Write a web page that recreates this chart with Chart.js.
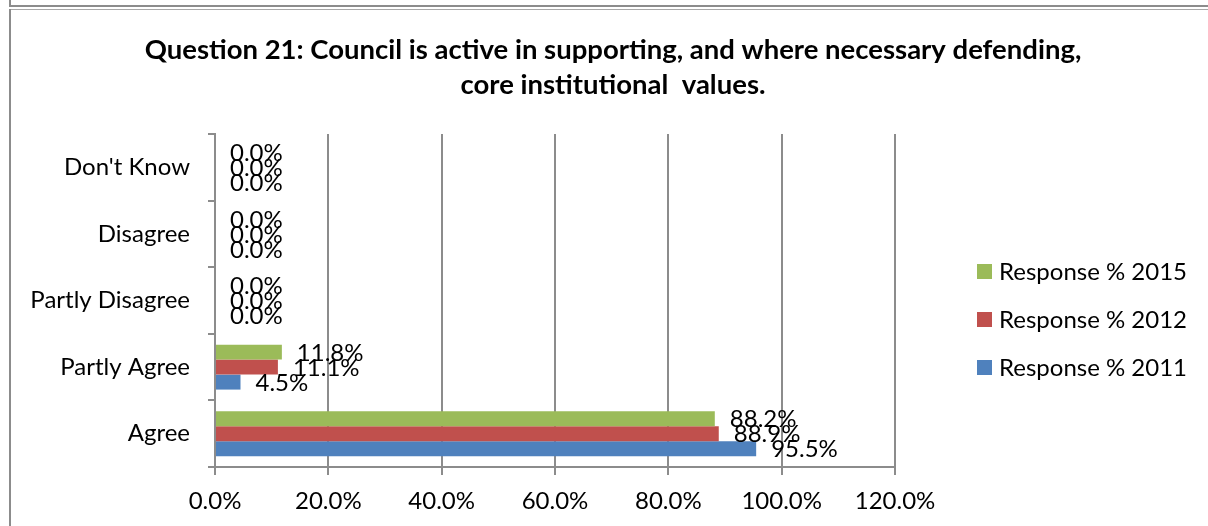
<!DOCTYPE html>
<html>
<head>
<meta charset="utf-8">
<title>Question 21</title>
<script src="https://cdn.jsdelivr.net/npm/chart.js@4/dist/chart.umd.min.js"></script>
<style>
    html, body {
        margin: 0;
        padding: 0;
        background: #ffffff;
        overflow: hidden;
    }
    .rule {
        position: absolute;
        background: #8c8c8c;
    }
    #chartWrap {
        position: absolute;
        left: 0;
        top: 0;
        width: 1208px;
        height: 526px;
    }
</style>
</head>
<body>
<div class="rule" style="left:9px; top:0; width:2px; height:7px;"></div>
<div class="rule" style="left:9px; top:5px; right:0; height:2px;"></div>
<div class="rule" style="left:9px; top:9px; right:0; height:1px; background:#a8a8a8;"></div>
<div class="rule" style="left:9px; top:9px; width:2px; bottom:0;"></div>
<div id="chartWrap">
    <canvas id="surveyChart" width="1208" height="526"></canvas>
</div>
<script>
const answers = ["Don't Know", 'Disagree', 'Partly Disagree', 'Partly Agree', 'Agree'];
const response2015 = [0, 0, 0, 11.8, 88.2];
const response2012 = [0, 0, 0, 11.1, 88.9];
const response2011 = [0, 0, 0, 4.5, 95.5];
const axisTicks = [0, 20, 40, 60, 80, 100, 120];

const FONT = 'Lato, "Open Sans", sans-serif';
const GRID = '#8c8c8c';

// percentage text next to the end of every bar
const valueLabels = {
    id: 'valueLabels',
    afterDatasetsDraw(chart) {
        const ctx = chart.ctx;
        ctx.save();
        ctx.font = `24px ${FONT}`;
        ctx.fillStyle = '#000000';
        ctx.textAlign = 'left';
        ctx.textBaseline = 'middle';
        chart.data.datasets.forEach((ds, i) => {
            chart.getDatasetMeta(i).data.forEach((bar, j) => {
                ctx.fillText(ds.data[j].toFixed(1) + '%', bar.x + 15, bar.y + 1);
            });
        });
        ctx.restore();
    }
};

// legend as its own layout box on the right, so the title still spans the full width
const sideLegend = {
    id: 'sideLegend',
    beforeInit(chart) {
        const box = {
            position: 'right',
            weight: 1000,
            fullSize: false,
            options: {},
            left: 0, top: 0, right: 0, bottom: 0, width: 0, height: 0,
            isHorizontal() {
                return false;
            },
            update(maxWidth, maxHeight) {
                this.width = 313;
                this.height = maxHeight;
            },
            draw() {
                const ctx = chart.ctx;
                const x = this.left + 82;
                const firstY = 271;
                ctx.save();
                ctx.font = `24px ${FONT}`;
                ctx.textAlign = 'left';
                ctx.textBaseline = 'middle';
                chart.data.datasets.forEach((ds, i) => {
                    const y = firstY + i * 48;
                    ctx.fillStyle = ds.backgroundColor;
                    ctx.fillRect(x, y - 7, 15, 15);
                    ctx.fillStyle = '#000000';
                    ctx.fillText(ds.label, x + 22, y + 1);
                });
                ctx.restore();
            }
        };
        Chart.layouts.addBox(chart, box);
    }
};

function createChart() {
    const ctx = document.getElementById('surveyChart').getContext('2d');

    return new Chart(ctx, {
        type: 'bar',
        data: {
            labels: answers,
            datasets: [{
                label: 'Response % 2015',
                data: response2015,
                backgroundColor: '#9bbb59'
            }, {
                label: 'Response % 2012',
                data: response2012,
                backgroundColor: '#c0504d'
            }, {
                label: 'Response % 2011',
                data: response2011,
                backgroundColor: '#4f81bd'
            }]
        },
        options: {
            indexAxis: 'y',
            responsive: false,
            animation: false,
            devicePixelRatio: 1,
            categoryPercentage: 0.675,
            barPercentage: 1,
            layout: {
                padding: { left: 18, right: 0, top: 0, bottom: 0 }
            },
            plugins: {
                legend: { display: false },
                tooltip: { enabled: false },
                title: {
                    display: true,
                    text: ['Question 21: Council is active in supporting, and where necessary defending,',
                           'core institutional  values.'],
                    color: '#000000',
                    font: { family: FONT, size: 27.5, weight: 'bold', lineHeight: 1.273 },
                    padding: { top: 33, bottom: 31 }
                }
            },
            scales: {
                x: {
                    min: axisTicks[0],
                    max: axisTicks[axisTicks.length - 1],
                    afterBuildTicks: scale => {
                        scale.ticks = axisTicks.map(v => ({ value: v }));
                    },
                    afterFit: scale => {
                        scale.height = 59;
                    },
                    ticks: {
                        color: '#000000',
                        font: { family: FONT, size: 24 },
                        padding: 12,
                        maxRotation: 0,
                        callback: v => v.toFixed(1) + '%'
                    },
                    grid: {
                        color: GRID,
                        lineWidth: 2,
                        drawTicks: true,
                        tickLength: 8
                    },
                    border: { color: GRID, width: 2 }
                },
                y: {
                    afterFit: scale => {
                        scale.width = 197;
                    },
                    ticks: {
                        color: '#000000',
                        font: { family: FONT, size: 24 },
                        padding: 18
                    },
                    grid: {
                        offset: true,
                        drawOnChartArea: false,
                        drawTicks: true,
                        tickLength: 7,
                        color: GRID,
                        lineWidth: 2
                    },
                    border: { color: GRID, width: 2 }
                }
            }
        },
        plugins: [valueLabels, sideLegend]
    });
}

let chart = createChart();
</script>
</body>
</html>
